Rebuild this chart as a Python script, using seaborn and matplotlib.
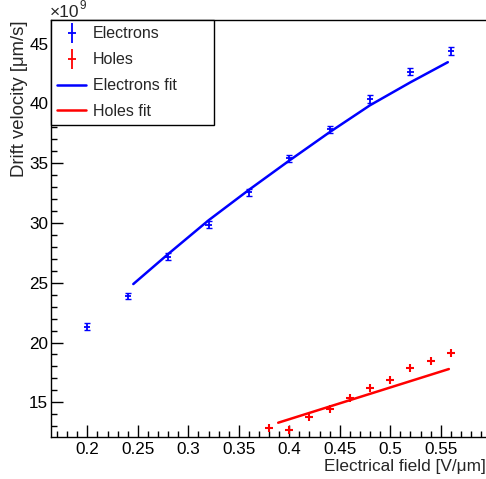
import numpy as np
import pandas as pd
import matplotlib
matplotlib.use("Agg")
import matplotlib.pyplot as plt
from matplotlib.lines import Line2D
from matplotlib.ticker import MultipleLocator
import seaborn as sns

# ---- data ----
field_e = [0.20, 0.24, 0.28, 0.32, 0.36, 0.40, 0.44, 0.48, 0.52, 0.56]
vel_e = [21.31, 23.91, 27.17, 29.87, 32.58, 35.42, 37.84, 40.38, 42.66, 44.40]
err_e = [0.30, 0.25, 0.28, 0.28, 0.30, 0.30, 0.30, 0.32, 0.32, 0.35]

field_h = [0.38, 0.40, 0.42, 0.44, 0.46, 0.48, 0.50, 0.52, 0.54, 0.56]
vel_h = [12.88, 12.72, 13.76, 14.43, 15.33, 16.17, 16.84, 17.84, 18.42, 19.09]

fit_e_x = [0.2455, 0.28, 0.32, 0.36, 0.40, 0.44, 0.48, 0.52, 0.557]
fit_e_y = [24.89, 27.40, 30.22, 32.77, 35.22, 37.60, 39.85, 41.77, 43.45]

fit_h_x = [0.389, 0.558]
fit_h_y = [13.29, 17.78]

legend_labels = ["Electrons", "Holes", "Electrons fit", "Holes fit"]
xlabel = "Electrical field [V/\u03bcm]"
ylabel = "Drift velocity [\u03bcm/s]"

# ---- style ----
sns.set_style("ticks")
plt.rcParams["font.family"] = ["Liberation Sans", "DejaVu Sans"]
FS = 11.5
TFS = 12.3

W, H = 486, 479
fig = plt.figure(figsize=(W / 100, H / 100), dpi=100)
left, right, top, bottom = 51, 486, 20, 436.7
ax = fig.add_axes([left / W, 1 - bottom / H, (right - left) / W, (bottom - top) / H])

df_e = pd.DataFrame({"x": field_e, "y": vel_e})
df_h = pd.DataFrame({"x": field_h, "y": vel_h})
df_fe = pd.DataFrame({"x": fit_e_x, "y": fit_e_y})
df_fh = pd.DataFrame({"x": fit_h_x, "y": fit_h_y})

blue, red = "#0000ff", "#ff0000"

# electrons: vertical bars with caps, short horizontal bars without caps
ax.errorbar(df_e["x"], df_e["y"], yerr=err_e, fmt="none",
            ecolor=blue, elinewidth=1.3, capsize=2.5, capthick=1.0)
ax.errorbar(df_e["x"], df_e["y"], xerr=0.003, fmt="none",
            ecolor=blue, elinewidth=1.3, capsize=0)
sns.scatterplot(data=df_h, x="x", y="y", marker="+", color=red, s=38,
                linewidth=1.5, ax=ax, legend=False)
sns.lineplot(data=df_fe, x="x", y="y", color=blue, linewidth=1.8, ax=ax,
             legend=False, estimator=None, sort=False)
sns.lineplot(data=df_fh, x="x", y="y", color=red, linewidth=1.8, ax=ax,
             legend=False, estimator=None, sort=False)

ax.set_xlim(0.164, 0.5948)
ax.set_ylim(12.12, 46.98)
ax.xaxis.set_major_locator(MultipleLocator(0.05))
ax.xaxis.set_minor_locator(MultipleLocator(0.01))
ax.yaxis.set_major_locator(MultipleLocator(5))
ax.yaxis.set_minor_locator(MultipleLocator(1))
ax.xaxis.set_major_formatter(matplotlib.ticker.FuncFormatter(lambda v, p: f"{v:g}"))
ax.tick_params(which="both", direction="in", top=False, right=False,
               labelsize=TFS, colors="black", width=1)
ax.tick_params(which="major", length=8.6)
ax.tick_params(which="minor", length=4.3)
ax.tick_params(axis="x", pad=4.0)
ax.tick_params(axis="y", pad=2.0)
for s in ["left", "bottom", "top"]:
    ax.spines[s].set_visible(True)
    ax.spines[s].set_color("black")
    ax.spines[s].set_linewidth(1)
ax.spines["right"].set_visible(False)

ax.set_xlabel(xlabel, fontsize=12.4, loc="right")
ax.xaxis.set_label_coords(1.0, -0.053)
ax.set_ylabel(ylabel, fontsize=13.3, loc="top")
ax.yaxis.set_label_coords(-0.052, 1.0)

# exponent marker "x10^9"
ax.text(-0.002, 0.999, "\u00d710", transform=ax.transAxes, fontsize=12.5,
        ha="left", va="bottom")
ax.text(0.065, 1.019, "9", transform=ax.transAxes, fontsize=8.5,
        ha="left", va="bottom")

h_e = (Line2D([], [], marker="|", color=blue, linestyle="none", markersize=14, markeredgewidth=1.3),
       Line2D([], [], marker="_", color=blue, linestyle="none", markersize=6, markeredgewidth=1.3))
h_h = (Line2D([], [], marker="|", color=red, linestyle="none", markersize=14, markeredgewidth=1.3),
       Line2D([], [], marker="_", color=red, linestyle="none", markersize=6, markeredgewidth=1.3))
h_fe = Line2D([], [], color=blue, linewidth=1.8)
h_fh = Line2D([], [], color=red, linewidth=1.8)
leg = ax.legend([h_e, h_h, h_fe, h_fh], legend_labels, fontsize=FS,
                loc="upper left", bbox_to_anchor=(0.0, 1.0, (214 - left) / (right - left), 0),
                mode="expand", borderaxespad=0, frameon=True, fancybox=False,
                edgecolor="black", framealpha=1, handlelength=1.8, handletextpad=0.4,
                labelspacing=0.68, borderpad=0.4)
leg.get_frame().set_linewidth(1)

fig.savefig("out.png", dpi=100)
